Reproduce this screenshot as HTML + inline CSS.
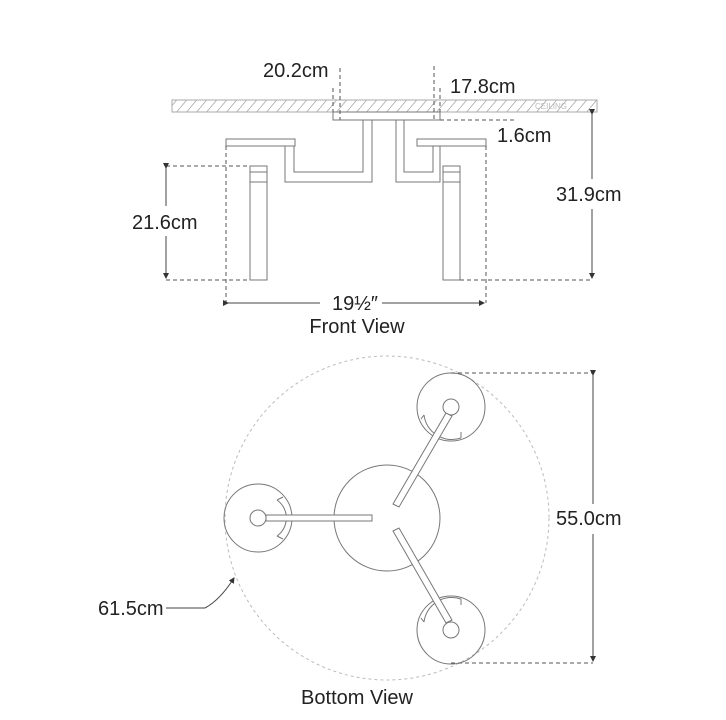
<!DOCTYPE html>
<html><head><style>body{margin:0;background:#fff}svg{display:block}</style></head><body>
<svg width="726" height="720" viewBox="0 0 726 720" xmlns="http://www.w3.org/2000/svg" font-family="Liberation Sans, sans-serif">
<defs>
<pattern id="h" width="10" height="12" patternUnits="userSpaceOnUse"><line x1="0" y1="12" x2="10" y2="0" stroke="#aaa" stroke-width="0.8"/></pattern>
<marker id="a" markerWidth="6" markerHeight="6" refX="5" refY="3" orient="auto"><path d="M0,0L6,3L0,6z" fill="#333"/></marker>
</defs>
<g fill="none" stroke="#777" stroke-width="1">
<rect x="172" y="100" width="425" height="12" fill="url(#h)" stroke="#aaa"/>
<rect x="333" y="112" width="107" height="8" fill="#fff"/>
<path d="M363 120V172H294V146H285V182H372V120"/>
<path d="M396 120V182H440V146H433V172H404V120"/>
<rect x="226" y="139" width="69" height="7" fill="#fff"/>
<rect x="417" y="139" width="69" height="7" fill="#fff"/>
<rect x="250" y="166" width="17" height="114"/><line x1="250" y1="172" x2="267" y2="172"/><line x1="250" y1="182" x2="267" y2="182"/>
<rect x="443" y="166" width="17" height="114"/><line x1="443" y1="172" x2="460" y2="172"/><line x1="443" y1="182" x2="460" y2="182"/>
</g>
<text x="535" y="109" font-size="8" fill="#bbb">CEILING</text>
<g fill="none" stroke="#555" stroke-dasharray="4,3" stroke-width="1">
<path d="M166 166H250M166 280H250M460 280H592M226 146V303M486 146V303M340 68V120M434 66V120M440 120H515M333 88V112M440 88V112"/>
</g>
<g stroke="#444" stroke-width="1">
<line x1="166" y1="168" x2="166" y2="278" marker-start="url(#a)" marker-end="url(#a)"/>
<line x1="592" y1="114" x2="592" y2="278" marker-start="url(#a)" marker-end="url(#a)"/>
<line x1="228" y1="303" x2="320" y2="303" marker-start="url(#a)"/>
<line x1="382" y1="303" x2="484" y2="303" marker-end="url(#a)"/>
</g>
<rect x="130" y="206" width="72" height="30" fill="#fff"/>
<rect x="552" y="179" width="76" height="30" fill="#fff"/>
<g font-size="20" fill="#222">
<text x="263" y="77">20.2cm</text>
<text x="450" y="93">17.8cm</text>
<text x="497" y="142">1.6cm</text>
<text x="132" y="229">21.6cm</text>
<text x="556" y="201">31.9cm</text>
<text x="355" y="310" text-anchor="middle">19½″</text>
<text x="357" y="333" text-anchor="middle">Front View</text>
<text x="98" y="615">61.5cm</text>
<text x="357" y="704" text-anchor="middle">Bottom View</text>
</g>
<g fill="none" stroke="#777" stroke-width="1">
<circle cx="387" cy="518" r="162" stroke="#bbb" stroke-dasharray="3,3"/>
<circle cx="387" cy="518" r="53"/>
<circle cx="258" cy="518" r="34"/><circle cx="258" cy="518" r="8"/>
<circle cx="451" cy="407" r="34"/><circle cx="451" cy="407" r="8"/>
<circle cx="451" cy="630" r="34"/><circle cx="451" cy="630" r="8"/>
<path d="M277 500A22 22 0 0 1 277 536M283 497L277 500M283 539L277 536"/>
<path d="M424 415A28 28 0 0 0 461 438M421 419L424 415M461 438L461 432"/>
<path d="M424 622A28 28 0 0 1 461 599M421 618L424 622M461 599L461 605"/>
<rect x="266" y="515" width="106" height="6" fill="#fff"/>
<path d="M393 504L446 413L452 416L399 507Z" fill="#fff"/>
<path d="M393 531L446 623L452 620L399 528Z" fill="#fff"/>
</g>
<g fill="none" stroke="#555" stroke-dasharray="4,3"><path d="M451 373H593M451 663H593"/></g>
<line x1="593" y1="375" x2="593" y2="661" stroke="#444" marker-start="url(#a)" marker-end="url(#a)"/>
<rect x="552" y="504" width="76" height="30" fill="#fff"/>
<text x="556" y="525" font-size="20" fill="#222">55.0cm</text>
<line x1="166" y1="608" x2="205" y2="608" stroke="#444"/>
<path d="M205 608Q220 600 234 578" fill="none" stroke="#444" marker-end="url(#a)"/>
</svg>
</body></html>
